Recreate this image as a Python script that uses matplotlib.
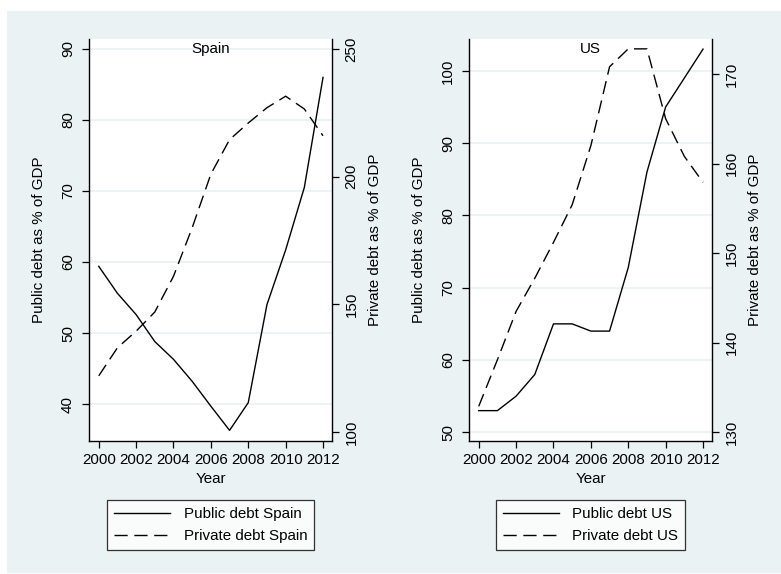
import matplotlib
matplotlib.use("Agg")
import matplotlib.pyplot as plt
from matplotlib.patches import Rectangle

plt.rcParams['font.family'] = ['Liberation Sans', 'DejaVu Sans']

years = list(range(2000, 2013))

# debt ratios, % of GDP
public_spain = [59.4, 55.6, 52.6, 48.8, 46.3, 43.2, 39.7, 36.3, 40.2, 54.0, 61.7, 70.5, 86.0]
private_spain = [122, 133, 139.5, 147, 161, 180, 201, 214.5, 221, 227, 231.5, 226.5, 216]
public_us = [53, 53, 55, 58, 65, 65, 64, 64, 72.8, 86, 95, 99, 103]
private_us = [132.9, 138.1, 143.5, 147.2, 151.2, 155.4, 162, 170.8, 172.8, 172.8, 165, 160.8, 157.9]

xticks = [2000, 2002, 2004, 2006, 2008, 2010, 2012]
ticks_pub_spain = [40, 50, 60, 70, 80, 90]
ticks_priv_spain = [100, 150, 200, 250]
ticks_pub_us = [50, 60, 70, 80, 90, 100]
ticks_priv_us = [130, 140, 150, 160, 170]

BG = '#EAF2F3'
FS = 10.9
DASH = (9.5, 4.8)

fig = plt.figure(figsize=(7.81, 5.74), dpi=100)
fig.patch.set_facecolor('white')
fig.patches.append(Rectangle((7 / 781, 1 / 574), 1, 1 - 12 / 574, transform=fig.transFigure,
                             facecolor=BG, edgecolor='none', zorder=-10))

# heading, mostly above the visible area
fig.text(4 / 781, 1 + 8.5 / 574, 'Figure 10: Evolution of public and private debt in Spain and the US',
         fontsize=22.7, fontweight='bold', family='Liberation Serif', ha='left', va='baseline')


def panel(left, name, pub, priv, lim_pub, lim_priv, t_pub, t_priv):
    ax = fig.add_axes([left / 781, 1 - 441 / 574, 243 / 781, 402 / 574])
    ax2 = ax.twinx()
    ax.set_facecolor('white')
    ax.set_zorder(ax2.get_zorder() - 1)
    ax2.patch.set_visible(False)

    l1, = ax.plot(years, pub, color='black', lw=1.0)
    l2, = ax2.plot(years, priv, color='black', lw=1.0, dashes=DASH)

    ax.set_xlim(1999.48, 2012.48)
    ax.set_ylim(*lim_pub)
    ax2.set_ylim(*lim_priv)
    ax.set_xticks(xticks)
    ax.set_yticks(t_pub)
    ax2.set_yticks(t_priv)
    ax.grid(axis='y', color=BG, lw=1.3)
    ax.set_axisbelow(True)

    for a in (ax, ax2):
        a.spines['top'].set_visible(False)
        for s in a.spines.values():
            s.set_linewidth(1.0)
        a.tick_params(length=5, width=0.9, labelsize=FS, color='black')
    ax2.spines['left'].set_visible(False)
    ax2.spines['bottom'].set_visible(False)
    ax.spines['right'].set_visible(False)
    ax.tick_params(axis='y', labelrotation=90, pad=5)
    ax2.tick_params(axis='y', labelrotation=90, pad=4)
    for lab in ax.get_yticklabels() + ax2.get_yticklabels():
        lab.set_va('center')
    ax.tick_params(axis='x', pad=4)

    ax.set_xlabel('Year', fontsize=FS, labelpad=3)
    ax.set_ylabel('Public debt as % of GDP', fontsize=FS, labelpad=11)
    ax2.set_ylabel('Private debt as % of GDP', fontsize=FS, labelpad=7)
    ax.text(0.5, 1 - 10 / 402, name, transform=ax.transAxes, ha='center', va='center', fontsize=FS)

    leg = ax.legend([l1, l2], ['Public debt ' + name, 'Private debt ' + name],
                    loc='upper center', bbox_to_anchor=(0.5, -59 / 402), fontsize=FS,
                    frameon=True, fancybox=False, handlelength=3.7, handletextpad=0.9,
                    borderpad=0.45, labelspacing=0.55, borderaxespad=0)
    leg.get_frame().set_edgecolor('black')
    leg.get_frame().set_linewidth(0.9)
    return ax


panel(89, 'Spain', public_spain, private_spain, (34.8, 91.4), (96.5, 253.9),
      ticks_pub_spain, ticks_priv_spain)
panel(469, 'US', public_us, private_us, (48.8, 104.4), (129.03, 173.9),
      ticks_pub_us, ticks_priv_us)

fig.savefig('out.png', dpi=100, facecolor=fig.get_facecolor())
